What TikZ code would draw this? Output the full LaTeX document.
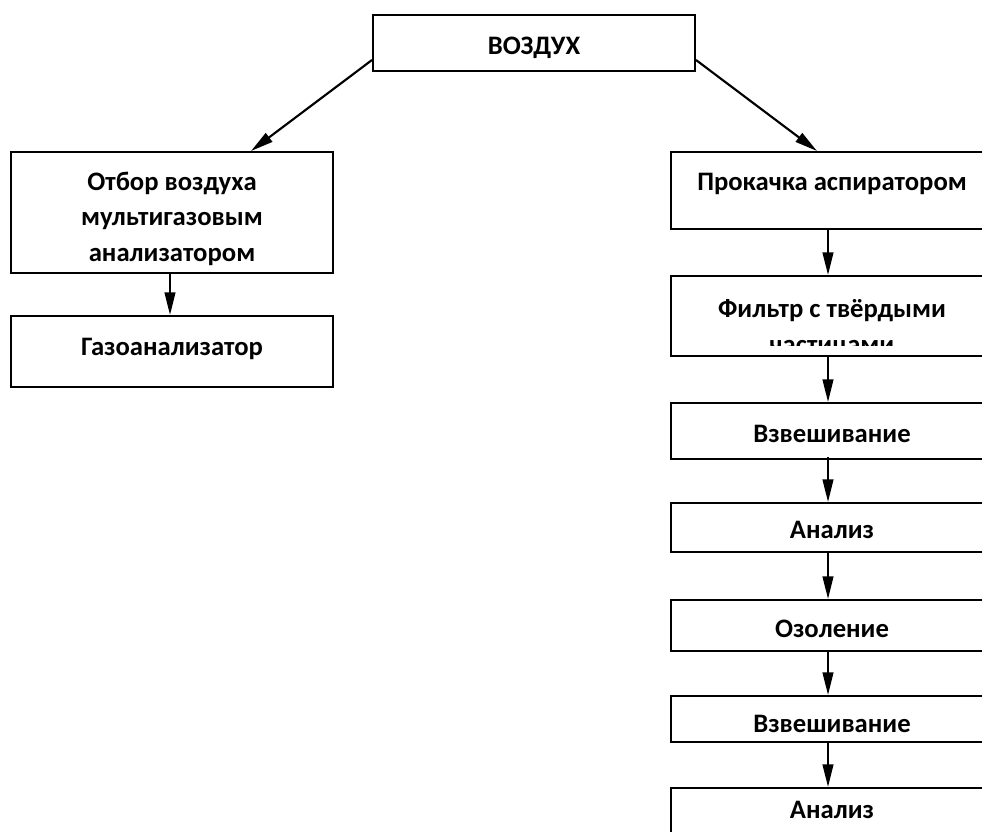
\documentclass[tikz,border=0pt]{standalone}
\usepackage{fontspec}
\setmainfont{Carlito}
\usetikzlibrary{arrows.meta}
\tikzset{
  stepbox/.style={draw, line width=1.5pt, minimum width=241.5pt, inner sep=0pt},
  boxtext/.style={anchor=base, align=center, inner sep=0pt,
    font=\fontsize{20}{26.5}\selectfont\bfseries},
  arr/.style={line width=1.6pt, -{Triangle[length=17pt,width=8pt]}}
}
\begin{document}
\begin{tikzpicture}  % ------ schema: air sampling -------------------
      [x={(0.75pt,0pt)},y={(0pt,-0.75pt)}]
    \useasboundingbox (0,0) rectangle (982,832);
    \clip (0,0) rectangle (982,832);
    % top
    \node[stepbox, minimum height=42pt] (air) at (534,43) {};
    \node[boxtext] (airtxt) at ([yshift=-30pt]air.north) {ВОЗДУХ};
    % left branch (base = last line)
    \node[stepbox, minimum height=90.75pt] (gas1) at (172,212.5) {};
    \node[boxtext] (gas1txt) at ([yshift=-82.5pt]gas1.north)
        {Отбор воздуха\\мультигазовым\\анализатором};
    \node[stepbox, minimum height=53.25pt] (gas2) at (172,351.5) {};
    \node[boxtext] (gas2txt) at ([yshift=-30pt]gas2.north) {Газоанализатор};
    % right branch
    \node[stepbox, minimum height=57.75pt] (dust1) at (832,190.5) {};
    \node[boxtext] (dust1txt) at ([yshift=-29.5pt]dust1.north) {Прокачка аспиратором};
    \node[stepbox, minimum height=60pt] (dust2) at (832,316) {};
    \begin{scope}
      \clip (671,276) rectangle (993,345);
      \node[boxtext] (dust2txt) at ([yshift=-58.5pt]dust2.north)
          {Фильтр с твёрдыми\\частицами};
    \end{scope}
    \node[stepbox, minimum height=42pt] (dust3) at (832,431) {};
    \node[boxtext] (dust3txt) at ([yshift=-30pt]dust3.north) {Взвешивание};
    \node[stepbox, minimum height=36.75pt] (dust4) at (832,527.5) {};
    \node[boxtext] (dust4txt) at ([yshift=-27pt]dust4.north) {Анализ};
    \node[stepbox, minimum height=38.25pt] (dust5) at (832,625.5) {};
    \node[boxtext] (dust5txt) at ([yshift=-29pt]dust5.north) {Озоление};
    \node[stepbox, minimum height=34.5pt] (dust6) at (832,719) {};
    \node[boxtext] (dust6txt) at ([yshift=-28pt]dust6.north) {Взвешивание};
    \node[stepbox, minimum height=54pt] (dust7) at (832,824) {};
    \node[boxtext] (dust7txt) at ([yshift=-23.5pt]dust7.north) {Анализ};
    % arrows
    \draw[arr] ([yshift=-12.75pt]air.west) -- ([xshift=59.25pt]gas1.north);
    \draw[arr] ([yshift=-12.75pt]air.east) -- ([xshift=-11.25pt]dust1.north);
    \draw[arr] ([xshift=-1.5pt]gas1.south) -- ([xshift=-1.5pt]gas2.north);
    \draw[arr] ([xshift=-3pt]dust1.south) -- ([xshift=-3pt]dust2.north);
    \draw[arr] ([xshift=-3pt]dust2.south) -- ([xshift=-3pt]dust3.north);
    \draw[arr] ([xshift=-3pt,yshift=2.25pt]dust3.south) -- ([xshift=-3pt]dust4.north);
    \draw[arr] ([xshift=-3pt]dust4.south) -- ([xshift=-3pt]dust5.north);
    \draw[arr] ([xshift=-3pt]dust5.south) -- ([xshift=-3pt]dust6.north);
    \draw[arr] ([xshift=-3pt,yshift=1.5pt]dust6.south) -- ([xshift=-3pt]dust7.north);
\end{tikzpicture}
\end{document}
